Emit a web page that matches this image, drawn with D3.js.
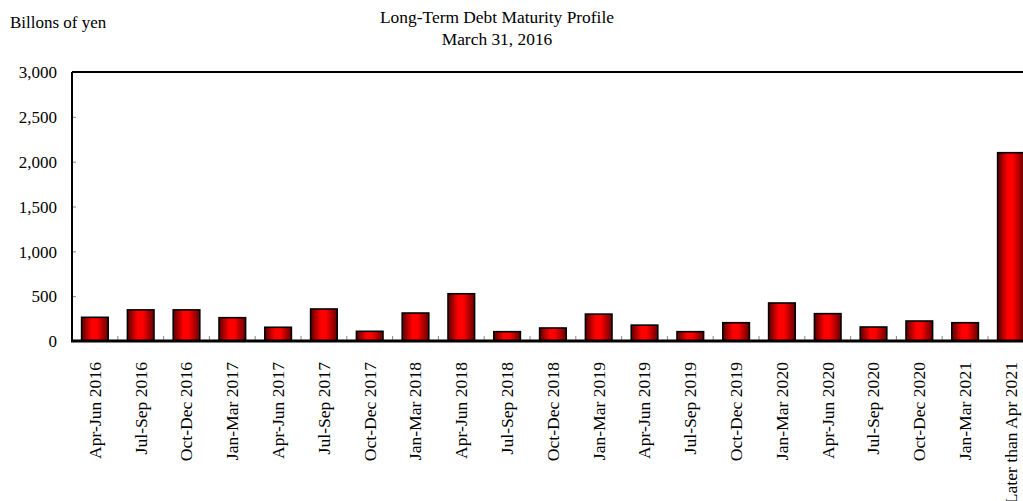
<!DOCTYPE html>
<html>
<head>
<meta charset="utf-8">
<script src="https://cdn.jsdelivr.net/npm/d3@7"></script>
<style>
  body { margin: 0; background: #fff; overflow: hidden; }
  svg { display: block; font-family: "Liberation Serif", "Times New Roman", serif; }
</style>
</head>
<body>
<div id="chart"></div>
<script>
// Long-term debt maturity, billions of yen
const periods = [
    "Apr-Jun 2016", "Jul-Sep 2016", "Oct-Dec 2016", "Jan-Mar 2017",
    "Apr-Jun 2017", "Jul-Sep 2017", "Oct-Dec 2017", "Jan-Mar 2018",
    "Apr-Jun 2018", "Jul-Sep 2018", "Oct-Dec 2018", "Jan-Mar 2019",
    "Apr-Jun 2019", "Jul-Sep 2019", "Oct-Dec 2019", "Jan-Mar 2020",
    "Apr-Jun 2020", "Jul-Sep 2020", "Oct-Dec 2020", "Jan-Mar 2021",
    "Later than Apr 2021"
];
const amounts = [
    264, 347, 347, 260,
    153, 357, 108, 312,
    527, 104, 145, 300,
    177, 104, 204, 424,
    305, 156, 223, 204,
    2100
];
const yTicks = [0, 500, 1000, 1500, 2000, 2500, 3000];
const titleLines = ["Long-Term Debt Maturity Profile", "March 31, 2016"];
const unitLabel = "Billons of yen";

const width = 1023, height = 501;
const margin = { left: 72, top: 72, bottom: 160 };
const bandStep = 45.8;
const plotRight = margin.left + bandStep * periods.length;
const plotBottom = height - margin.bottom; // 341

let svg = d3.select("#chart").append("svg")
    .attr("width", width)
    .attr("height", height);

let defs = svg.append("defs");
let grad = defs.append("linearGradient")
    .attr("id", "barGrad")
    .attr("x1", "0%").attr("x2", "100%")
    .attr("y1", "0%").attr("y2", "0%");
grad.append("stop").attr("offset", "0%").attr("stop-color", "#5a0000");
grad.append("stop").attr("offset", "38%").attr("stop-color", "#ff0000");
grad.append("stop").attr("offset", "58%").attr("stop-color", "#ff0000");
grad.append("stop").attr("offset", "100%").attr("stop-color", "#650000");

let x = d3.scaleBand()
    .domain(periods)
    .range([margin.left, plotRight])
    .paddingInner(0.42)
    .paddingOuter(0.21);

let y = d3.scaleLinear()
    .domain([0, 3000])
    .range([plotBottom, margin.top]);

// titles
svg.append("text")
    .attr("x", 10).attr("y", 28)
    .style("font-size", "17px")
    .text(unitLabel);

svg.selectAll(".title")
    .data(titleLines)
    .enter()
    .append("text")
    .attr("class", "title")
    .attr("x", 497)
    .attr("y", (d, i) => 23 + i * 22)
    .attr("text-anchor", "middle")
    .style("font-size", "17.4px")
    .text(d => d);

// y axis ticks + labels
let yAxis = svg.append("g")
    .attr("transform", `translate(${margin.left},0)`)
    .call(d3.axisLeft(y)
        .tickValues(yTicks)
        .tickSizeInner(-4)
        .tickSizeOuter(0)
        .tickPadding(15)
        .tickFormat(d3.format(",")));
yAxis.select(".domain").remove();
yAxis.selectAll(".tick line").attr("stroke", "#888");
yAxis.selectAll(".tick text")
    .style("font-size", "17px")
    .style("font-family", "'Liberation Serif', 'Times New Roman', serif")
    .attr("fill", "#000")
    .attr("dy", "0.34em");

// category boundary ticks
let boundaries = periods.slice(1).map(p => x(p) - x.step() * x.paddingInner() / 2);
svg.append("g").selectAll("line")
    .data(boundaries)
    .enter()
    .append("line")
    .attr("x1", d => d).attr("x2", d => d)
    .attr("y1", plotBottom).attr("y2", plotBottom - 5)
    .attr("stroke", "#888");

// bars
svg.append("g").selectAll("rect")
    .data(periods)
    .enter()
    .append("rect")
    .attr("x", d => x(d))
    .attr("width", x.bandwidth())
    .attr("y", (d, i) => y(amounts[i]))
    .attr("height", (d, i) => y(0) - y(amounts[i]))
    .attr("fill", "url(#barGrad)")
    .attr("stroke", "#000")
    .attr("stroke-width", 1.6);

// frame: left, top, bottom
svg.append("line")
    .attr("x1", margin.left).attr("x2", margin.left)
    .attr("y1", margin.top).attr("y2", plotBottom)
    .attr("stroke", "#000").attr("stroke-width", 2);
svg.append("line")
    .attr("x1", margin.left).attr("x2", plotRight)
    .attr("y1", margin.top).attr("y2", margin.top)
    .attr("stroke", "#000").attr("stroke-width", 2);
svg.append("line")
    .attr("x1", margin.left - 1).attr("x2", plotRight)
    .attr("y1", plotBottom).attr("y2", plotBottom)
    .attr("stroke", "#000").attr("stroke-width", 3);

// x labels, rotated
svg.append("g").selectAll("text")
    .data(periods)
    .enter()
    .append("text")
    .attr("transform", d => `translate(${x(d) + x.bandwidth() / 2},362) rotate(-90)`)
    .attr("text-anchor", "end")
    .attr("dy", "0.34em")
    .style("font-size", "17.6px")
    .text(d => d);
</script>
</body>
</html>
